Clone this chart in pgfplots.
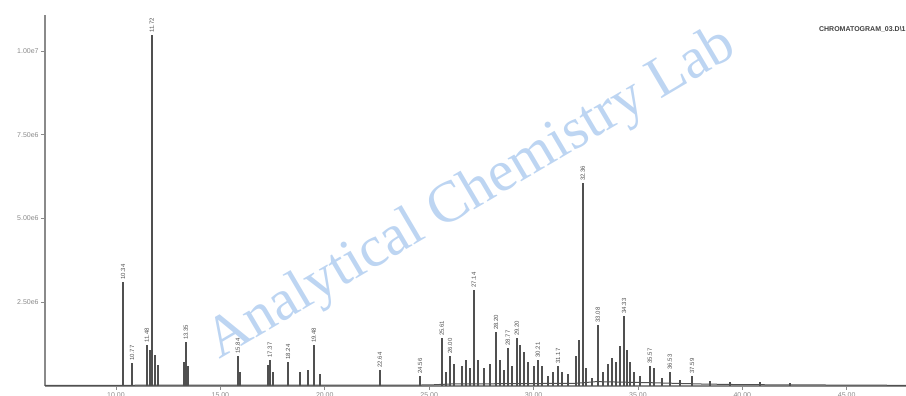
\documentclass[border=0pt]{standalone}
\usepackage{fontspec}
\setmainfont{Liberation Sans}
\newfontfamily\wmfont{Liberation Serif}
\usepackage{pgfplots}
\pgfplotsset{compat=1.18}
\usepackage{pgfplotstable}
\definecolor{axgray}{HTML}{8A8A8A}
\definecolor{trace}{HTML}{505050}
\definecolor{wmblue}{HTML}{BDD5F2}

% retention time (min), abundance (x 10^6)
\pgfplotstableread{
t h
10.34 3.11
10.77 0.69
11.48 1.22
11.63 1.08
11.72 10.48
11.87 0.93
12.01 0.63
13.26 0.72
13.35 1.31
13.45 0.60
15.84 0.90
15.94 0.42
17.28 0.63
17.37 0.78
17.52 0.42
18.24 0.72
18.81 0.42
19.19 0.48
19.48 1.22
19.77 0.36
22.64 0.48
24.56 0.30
25.61 1.43
25.80 0.42
26.00 0.90
26.19 0.66
26.57 0.60
26.76 0.78
26.95 0.54
27.14 2.87
27.34 0.78
27.62 0.54
27.91 0.66
28.20 1.61
28.39 0.78
28.58 0.48
28.77 1.14
28.97 0.60
29.20 1.43
29.35 1.22
29.54 1.02
29.73 0.72
30.02 0.60
30.21 0.78
30.40 0.60
30.69 0.30
30.93 0.42
31.17 0.60
31.36 0.42
31.65 0.36
32.03 0.90
32.17 1.37
32.36 6.06
32.51 0.54
32.80 0.24
33.08 1.82
33.32 0.42
33.56 0.66
33.75 0.84
33.95 0.72
34.14 1.19
34.33 2.09
34.47 1.08
34.62 0.72
34.81 0.42
35.10 0.30
35.57 0.60
35.77 0.54
36.15 0.24
36.53 0.42
37.01 0.18
37.59 0.30
38.45 0.15
39.41 0.12
40.84 0.12
42.28 0.09
}\peaks

% labelled peaks
\pgfplotstableread{
t h
10.34 3.11
10.77 0.69
11.48 1.22
11.72 10.48
13.35 1.31
15.84 0.90
17.37 0.78
18.24 0.72
19.48 1.22
22.64 0.48
24.56 0.30
25.61 1.43
26.00 0.90
27.14 2.87
28.20 1.61
28.77 1.14
29.20 1.43
30.21 0.78
31.17 0.60
32.36 6.06
33.08 1.82
34.33 2.09
35.57 0.60
36.53 0.42
37.59 0.30
}\labelled

\begin{document}
\begin{tikzpicture}
\useasboundingbox (0,0) rectangle (453pt,198pt);
\begin{axis}[
  at={(22.5pt,5pt)}, anchor=south west,
  scale only axis, width=430.5pt, height=185.5pt,
  xmin=6.6, xmax=47.84, ymin=0, ymax=11.08,
  axis x line=bottom, axis y line=left,
  axis line style={axgray, line width=0.7pt, -},
  tick style={axgray, line width=0.4pt},
  tick align=outside, major tick length=2pt,
  xtick={10,15,...,45},
  xticklabels={10.00,15.00,20.00,25.00,30.00,35.00,40.00,45.00},
  ytick={2.5,5,7.5,10},
  yticklabels={2.50e6,5.00e6,7.50e6,1.00e7},
  xticklabel style={font=\fontsize{3.5}{4}\selectfont, text=axgray, inner sep=1pt},
  yticklabel style={font=\fontsize{3.5}{4}\selectfont, text=axgray, inner sep=1pt},
  /pgf/number format/assume math mode=true,
  clip=false,
]
\node[rotate=30.5, text=wmblue, font=\wmfont\fontsize{29}{29}\selectfont]
  at (rel axis cs:0.496,0.515) {Analytical Chemistry Lab};
\node[anchor=east, font=\fontsize{3.5}{4}\selectfont\bfseries, text=black!75, inner sep=0pt]
  at (rel axis cs:1,0.96) {CHROMATOGRAM\_03.D\textbackslash 1};
\addplot[trace, line width=0.5pt] coordinates {
  (6.6,0.02) (25,0.03) (26,0.06) (32,0.08) (33,0.13) (35.5,0.10) (38,0.06) (40,0.04) (47.84,0.02)};
\addplot[ycomb, trace, line width=0.8pt] table[x=t, y=h] {\peaks};
\addplot[only marks, mark=none,
  point meta=x,
  nodes near coords={\pgfmathprintnumber[fixed,fixed zerofill,precision=2,assume math mode=true]{\pgfplotspointmeta}},
  every node near coord/.append style={rotate=90, anchor=west,
    font=\fontsize{3}{3}\selectfont, text=trace, inner sep=1pt}]
  table[x=t, y=h] {\labelled};
\end{axis}
\end{tikzpicture}
\end{document}
